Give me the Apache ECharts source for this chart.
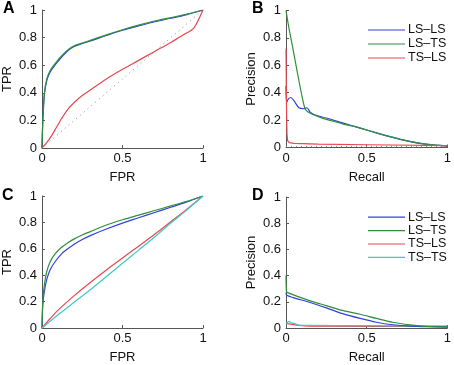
<!DOCTYPE html>
<html>
<head>
<meta charset="utf-8">
<script src="https://cdn.jsdelivr.net/npm/echarts@6/dist/echarts.min.js"></script>
<style>
  html, body { margin: 0; padding: 0; background: #fff; }
  #main { width: 454px; height: 365px; }
</style>
</head>
<body>
<div id="main"></div>
<script>
// ---- data ----
const names = ['LS–LS', 'LS–TS', 'TS–LS', 'TS–TS']
const colors = ['#3340e0', '#2f8f3a', '#e8484f', '#40c8c8']
const yTicks = [0, 0.2, 0.4, 0.6, 0.8, 1]
const xTicks = [0, 0.5, 1]

// panel A: ROC
const rocA_lsls = [[0,0],[0.005,0.19],[0.015,0.39],[0.03,0.49],[0.05,0.55],[0.08,0.6],[0.12,0.655],[0.16,0.705],[0.2,0.735],[0.25,0.757],[0.3,0.775],[0.4,0.815],[0.5,0.853],[0.6,0.885],[0.7,0.915],[0.8,0.94],[0.9,0.967],[1,1]]
const rocA_lsts = [[0,0],[0.005,0.2],[0.015,0.4],[0.03,0.5],[0.05,0.56],[0.08,0.61],[0.12,0.665],[0.16,0.71],[0.2,0.74],[0.25,0.76],[0.3,0.78],[0.4,0.82],[0.5,0.857],[0.6,0.89],[0.7,0.92],[0.8,0.945],[0.9,0.97],[1,1]]
const rocA_tsls = [[0,0],[0.03,0.04],[0.06,0.09],[0.09,0.15],[0.12,0.21],[0.16,0.28],[0.2,0.33],[0.25,0.38],[0.3,0.42],[0.4,0.5],[0.5,0.57],[0.6,0.635],[0.7,0.7],[0.8,0.765],[0.85,0.8],[0.9,0.835],[0.94,0.865],[0.97,0.925],[1,1]]
const diag = [[0,0],[1,1]]

// panel B: precision-recall
const prB_lsls = [[0,0.45],[0.004,0.33],[0.015,0.355],[0.03,0.365],[0.05,0.34],[0.08,0.29],[0.11,0.283],[0.13,0.29],[0.15,0.258],[0.18,0.237],[0.25,0.215],[0.35,0.18],[0.45,0.145],[0.55,0.11],[0.65,0.077],[0.75,0.048],[0.85,0.027],[0.95,0.015],[1,0.012]]
const prB_lsts = [[0,1],[0.02,0.86],[0.04,0.74],[0.07,0.55],[0.1,0.37],[0.12,0.28],[0.15,0.25],[0.2,0.225],[0.25,0.205],[0.3,0.19],[0.35,0.173],[0.4,0.16],[0.45,0.145],[0.55,0.11],[0.65,0.077],[0.75,0.048],[0.85,0.027],[0.95,0.016],[1,0.012]]
const prB_tsls = [[0,0.72],[0.003,0.3],[0.006,0.1],[0.01,0.05],[0.02,0.035],[0.05,0.03],[0.2,0.025],[0.5,0.02],[1,0.013]]
const baseB = [[0,0.008],[1,0.008]]

// panel C: ROC
const rocC_lsls = [[0,0],[0.005,0.18],[0.015,0.28],[0.03,0.37],[0.05,0.44],[0.08,0.5],[0.12,0.56],[0.16,0.6],[0.2,0.635],[0.25,0.67],[0.3,0.7],[0.4,0.75],[0.5,0.795],[0.6,0.835],[0.7,0.875],[0.8,0.915],[0.9,0.955],[1,1]]
const rocC_lsts = [[0,0],[0.005,0.2],[0.015,0.33],[0.03,0.43],[0.05,0.5],[0.08,0.56],[0.12,0.61],[0.16,0.645],[0.2,0.675],[0.25,0.705],[0.3,0.73],[0.4,0.78],[0.5,0.82],[0.6,0.855],[0.7,0.89],[0.8,0.925],[0.9,0.96],[1,1]]
const rocC_tsls = [[0,0],[0.05,0.07],[0.1,0.135],[0.2,0.245],[0.3,0.345],[0.4,0.44],[0.5,0.53],[0.6,0.62],[0.7,0.71],[0.8,0.805],[0.9,0.9],[1,1]]
const rocC_tsts = [[0,0],[0.05,0.05],[0.1,0.1],[0.2,0.195],[0.3,0.29],[0.4,0.39],[0.5,0.49],[0.6,0.59],[0.7,0.69],[0.8,0.795],[0.9,0.895],[1,1]]

// panel D: precision-recall
const prD_lsls = [[0,0.27],[0.005,0.25],[0.045,0.232],[0.15,0.195],[0.25,0.154],[0.35,0.11],[0.46,0.073],[0.56,0.044],[0.66,0.025],[0.77,0.015],[0.9,0.01],[1,0.007]]
const prD_lsts = [[0,0.4],[0.003,0.28],[0.01,0.27],[0.15,0.207],[0.25,0.171],[0.35,0.134],[0.46,0.105],[0.56,0.073],[0.66,0.044],[0.77,0.024],[0.87,0.012],[1,0.007]]
const prD_tsls = [[0,0.035],[0.03,0.03],[0.08,0.02],[0.15,0.015],[1,0.012]]
const prD_tsts = [[0,0.03],[0.01,0.045],[0.02,0.05],[0.03,0.04],[0.05,0.035],[0.08,0.022],[0.15,0.02],[0.5,0.018],[1,0.015]]

const labels = ['A', 'B', 'C', 'D']
const xNames = ['FPR', 'Recall', 'FPR', 'Recall']
const yNames = ['TPR', 'Precision', 'TPR', 'Precision']

const font = 'Liberation Sans, Arial, sans-serif'
const grids = [
  { left: 40, top: 10, width: 163, height: 138 },
  { left: 286, top: 10.5, width: 161.5, height: 137 },
  { left: 40, top: 196, width: 163, height: 139 },
  { left: 286, top: 197, width: 161.5, height: 137 },
]
const letterPos = [[3, 1], [252, 1], [2, 188], [252, 188]]

function axisCommon(i) {
  return {
    gridIndex: i,
    min: 0,
    max: 1,
    splitLine: { show: false },
    axisLine: { show: true, onZero: false, lineStyle: { color: '#555', width: 1 } },
    axisTick: { show: true, inside: true, length: 3, lineStyle: { color: '#555' } },
    axisLabel: { color: '#111', fontSize: 13, fontFamily: font, showMinLabel: true, showMaxLabel: true },
    nameLocation: 'middle',
    nameTextStyle: { color: '#111', fontSize: 13, fontFamily: font },
  }
}

const xAxis = grids.map((g, i) => ({
  ...axisCommon(i),
  type: 'value',
  interval: 0.5,
  name: xNames[i],
  nameGap: 23,
  axisLabel: { ...axisCommon(i).axisLabel, margin: 4, formatter: v => xTicks.includes(v) ? String(v) : '' },
}))
const yAxis = grids.map((g, i) => ({
  ...axisCommon(i),
  type: 'value',
  interval: 0.2,
  name: yNames[i],
  nameGap: 28,
  axisLabel: { ...axisCommon(i).axisLabel, margin: 5, formatter: v => String(+v.toFixed(1)) },
}))

function line(name, color, data, idx, extra) {
  return Object.assign({
    name: name,
    type: 'line',
    xAxisIndex: idx,
    yAxisIndex: idx,
    data: data,
    symbol: 'none',
    smooth: 0.3,
    animation: false,
    color: color,
    lineStyle: { color: color, width: 1.2 },
    itemStyle: { color: color },
  }, extra || {})
}
function dotted(data, idx) {
  return {
    name: 'chance', type: 'line', xAxisIndex: idx, yAxisIndex: idx, data: data,
    symbol: 'none', animation: false, silent: true, color: '#888',
    lineStyle: { color: '#888', width: 1, type: [1, 4] },
  }
}

const series = [
  line(names[0], colors[0], rocA_lsls, 0),
  line(names[1], colors[1], rocA_lsts, 0),
  line(names[2], colors[2], rocA_tsls, 0),
  dotted(diag, 0),
  dotted(baseB, 1),
  line(names[0], colors[0], prB_lsls, 1),
  line(names[1], colors[1], prB_lsts, 1),
  line(names[2], colors[2], prB_tsls, 1, { smooth: false }),
  line(names[0], colors[0], rocC_lsls, 2),
  line(names[1], colors[1], rocC_lsts, 2),
  line(names[2], colors[2], rocC_tsls, 2),
  line(names[3], colors[3], rocC_tsts, 2),
  line(names[2], colors[2], prD_tsls, 3),
  line(names[3], colors[3], prD_tsts, 3),
  line(names[0], colors[0], prD_lsls, 3),
  line(names[1], colors[1], prD_lsts, 3),
]

function legendItems(n) {
  return names.slice(0, n).map((nm, k) => ({
    name: nm,
    itemStyle: { color: colors[k], borderWidth: 0, opacity: 1 },
  }))
}
function legendAt(top, lh, n) {
  return {
    orient: 'vertical',
    left: 363,
    top: top,
    icon: 'rect',
    itemWidth: 37,
    itemHeight: 1.2,
    itemGap: 0,
    selectedMode: false,
    textStyle: { color: '#111', fontSize: 12.5, fontFamily: font, lineHeight: lh, padding: [0, 0, 0, -2] },
    data: legendItems(n),
  }
}

const chart = echarts.init(document.getElementById('main'), null, { renderer: 'canvas' })
chart.setOption({
  backgroundColor: '#fff',
  animation: false,
  grid: grids,
  xAxis: xAxis,
  yAxis: yAxis,
  series: series,
  legend: [legendAt(18, 14, 3), legendAt(205.5, 13.4, 4)],
  graphic: labels.map((t, i) => ({
    type: 'text',
    left: letterPos[i][0],
    top: letterPos[i][1],
    style: { text: t, fontSize: 16, fontWeight: 'bold', fontFamily: font, fill: '#000' },
  })),
})
</script>
</body>
</html>
